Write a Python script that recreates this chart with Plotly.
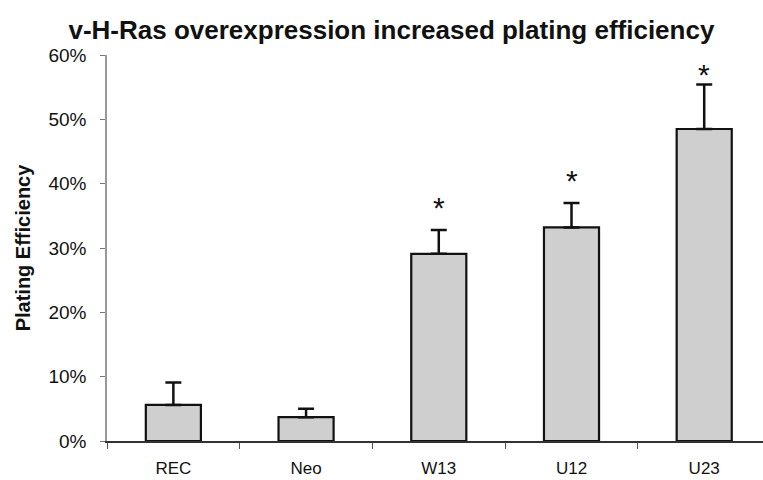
import plotly.graph_objects as go

categories = ["REC", "Neo", "W13", "U12", "U23"]
efficiency = [0.056, 0.037, 0.291, 0.332, 0.485]
error_up = [0.035, 0.013, 0.037, 0.038, 0.069]
significance = ["", "", "*", "*", "*"]
y_ticks = [0, 0.1, 0.2, 0.3, 0.4, 0.5, 0.6]
y_tick_labels = ["0%", "10%", "20%", "30%", "40%", "50%", "60%"]

FONT = "Liberation Sans, Arial, sans-serif"

fig = go.Figure()
fig.add_trace(go.Bar(
    x=categories, y=efficiency,
    width=0.415,
    marker=dict(color="#cfcfcf", line=dict(color="#111111", width=2.2)),
    error_y=dict(type="data", array=error_up, arrayminus=[0]*len(error_up),
                 symmetric=False, color="#111111", thickness=2.5, width=8),
    showlegend=False,
))

for cat, v, e, s in zip(categories, efficiency, error_up, significance):
    if s:
        fig.add_annotation(x=cat, y=min(v + e + 0.037, 0.572), text=s, showarrow=False,
                           font=dict(family=FONT, size=30, color="#111111"),
                           yanchor="middle", yshift=-1)

fig.update_layout(
    width=763, height=480,
    margin=dict(l=107, r=0, t=55, b=39, autoexpand=False),
    paper_bgcolor="white", plot_bgcolor="white",
    title=dict(text="<b>v-H-Ras overexpression increased plating efficiency</b>",
               x=0.513, xanchor="center", y=0.9375, yanchor="middle",
               font=dict(family=FONT, size=26, color="#111111")),
    font=dict(family=FONT, size=16, color="#111111"),
)
fig.update_xaxes(
    range=[-0.5, 4.443], showline=True, linecolor="#333333", linewidth=1.5,
    ticks="outside", tickson="boundaries", ticklen=6, tickcolor="#555555",
    tickfont=dict(size=17), ticklabelstandoff=11, showgrid=False, zeroline=False,
    automargin=False,
)
fig.update_yaxes(
    range=[0, 0.6], tickvals=y_ticks, ticktext=y_tick_labels,
    showline=True, linecolor="#999999", linewidth=1.5,
    ticks="outside", ticklen=5, tickcolor="#777777", ticklabelstandoff=10,
    tickfont=dict(size=19), showgrid=False, zeroline=False, automargin=False,
    title=dict(text="<b>Plating Efficiency</b>", font=dict(size=20), standoff=12),
)

fig.write_html("out.html", config={"displayModeBar": False},
               post_script="document.body.style.margin='0';")
